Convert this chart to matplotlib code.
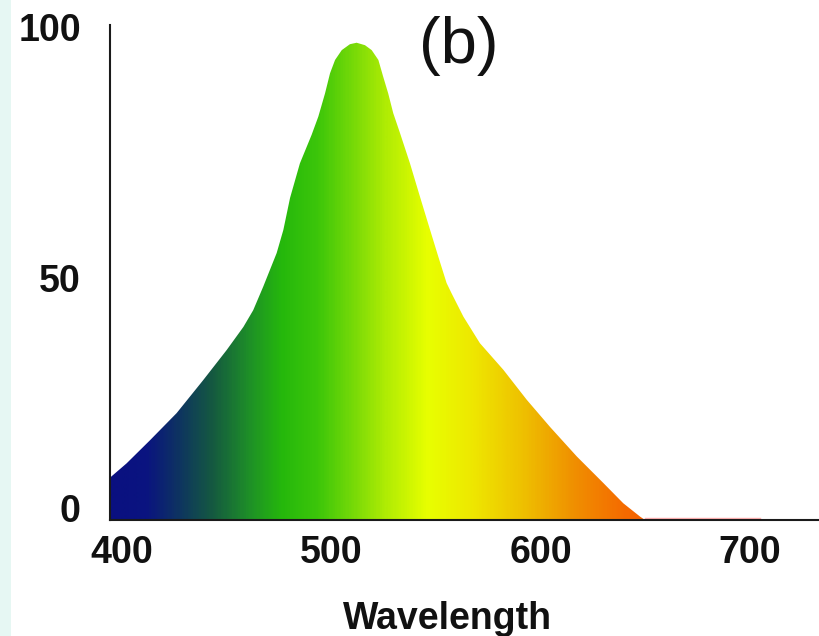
import numpy as np
import matplotlib
matplotlib.use("Agg")
import matplotlib.pyplot as plt
from matplotlib.colors import LinearSegmentedColormap
from matplotlib.patches import Rectangle
from matplotlib.transforms import ScaledTranslation

# sensitivity curve (wavelength in nm, relative %)
wavelength = [394.0, 402.2, 413.4, 426.1, 438.8, 450.0, 458.0, 462.7, 467.5,
              470.7, 473.9, 477.1, 480.3, 485.0, 490.6, 493.8, 497.0, 499.4,
              501.8, 505.0, 508.9, 512.1, 516.1, 519.3, 522.5, 524.8, 527.2,
              529.6, 532.8, 537.6, 542.4, 547.2, 551.1, 555.1, 557.5, 563.1,
              571.0, 582.2, 593.4, 604.5, 617.3, 630.0, 639.5, 647.5, 649.9]
sensitivity = [8.5, 11.5, 16.2, 21.7, 28.4, 34.5, 39.2, 42.6, 47.4,
               50.8, 54.2, 58.9, 65.4, 72.4, 78.2, 81.9, 86.6, 90.7,
               93.4, 95.4, 96.6, 96.9, 96.4, 95.4, 93.4, 90.0, 86.6,
               82.6, 78.6, 72.4, 65.6, 58.9, 53.5, 48.1, 46.0, 41.3,
               35.9, 30.5, 24.4, 18.9, 12.9, 7.5, 3.4, 0.7, 0.0]

x_ticks = [400, 500, 600, 700]
y_ticks = [0, 50, 100]
y_labels = ["0", "50", "100"]
x_title = "Wavelength"
panel_tag = "(b)"

# colour stops of the spectrum fill (nm -> colour)
spec_nm = [394, 411, 427, 443, 460, 476, 493, 509, 526, 546, 567, 592, 616, 641, 700, 734]
spec_col = ["#0a1080", "#0a1480", "#0e3560", "#155a40", "#1e8f28", "#25b80c",
            "#3cc60a", "#72d808", "#b0ec04", "#e8ff00", "#eee800", "#eec000",
            "#f09000", "#f56a00", "#ff3000", "#ff3000"]

W, H = 820, 636
fig = plt.figure(figsize=(W / 100, H / 100), dpi=100)
fig.patch.set_facecolor("white")
# pale strip on the far left
fig.patches.append(Rectangle((0, 0), 11 / W, 1, transform=fig.transFigure,
                             facecolor="#e6f7f3", edgecolor="none"))

ax = fig.add_axes([110 / W, (H - 520) / H, (W - 110) / W, (520 - 25) / H])
xmin, xmax = 394.27, 733.5
ymax = 100.5
ax.set_xlim(xmin, xmax)
ax.set_ylim(0, ymax)

# gradient image clipped to the area under the curve
lo, hi = spec_nm[0], spec_nm[-1]
stops = [((n - lo) / (hi - lo), c) for n, c in zip(spec_nm, spec_col)]
cmap = LinearSegmentedColormap.from_list("spec", stops)
grad = np.linspace(xmin, xmax, 600).reshape(1, -1)
im = ax.imshow(grad, cmap=cmap, vmin=lo, vmax=hi, aspect="auto",
               extent=[xmin, xmax, 0, ymax], origin="lower", zorder=1,
               interpolation="bilinear")
poly = ax.fill_between(wavelength, sensitivity, 0, facecolor="none",
                       edgecolor="none", zorder=1)
im.set_clip_path(poly.get_paths()[0], transform=ax.transData)

# very faint reddish tail along the axis
ax.plot([wavelength[-1], 705], [0.4, 0.4], color="#ffb0b0", lw=1.0, zorder=1)

for s in ["top", "right"]:
    ax.spines[s].set_visible(False)
for s in ["left", "bottom"]:
    ax.spines[s].set_linewidth(1.5)
    ax.spines[s].set_color("#1a1a1a")
    ax.spines[s].set_zorder(3)

ax.set_xticks(x_ticks)
ax.set_yticks(y_ticks)
ax.set_yticklabels(y_labels)
ax.tick_params(length=0)
ax.tick_params(axis="x", pad=11)
ax.tick_params(axis="y", pad=21)
for lbl in ax.get_xticklabels() + ax.get_yticklabels():
    lbl.set_fontfamily("Liberation Sans")
    lbl.set_fontweight("bold")
    lbl.set_fontsize(27)
    lbl.set_color("#111111")

# the printed y labels are not evenly spaced; nudge them
shifts = [9.0, -3.4, 0.0]
for lbl, dy in zip(ax.get_yticklabels(), shifts):
    lbl.set_transform(lbl.get_transform() +
                      ScaledTranslation(0, dy / 72, fig.dpi_scale_trans))

fig.text(448 / W, 1 - 629 / H, x_title, ha="center", va="baseline",
         fontsize=27, fontweight="bold", family="Liberation Sans", color="#111111")
fig.text(459 / W, 1 - 63 / H, panel_tag, ha="center", va="baseline",
         fontsize=47, family="Liberation Sans", color="#111111")

fig.savefig("out.png", dpi=100)
